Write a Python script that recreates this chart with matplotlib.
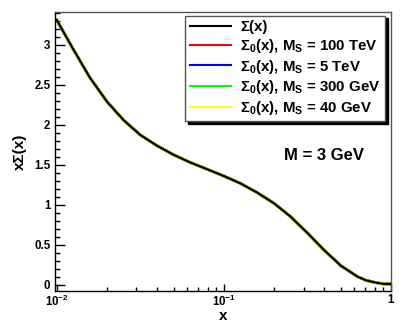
import numpy as np
import matplotlib
matplotlib.use("Agg")
import matplotlib.pyplot as plt
from matplotlib.ticker import FixedLocator, FixedFormatter, MultipleLocator, NullFormatter

# ==========================================
# 字体设置（ROOT风格：Helvetica粗体 -> Liberation Sans Bold）
# ==========================================
plt.rcParams['font.family'] = ['Liberation Sans', 'DejaVu Sans']
plt.rcParams['font.weight'] = 'bold'
plt.rcParams['mathtext.fontset'] = 'custom'
plt.rcParams['mathtext.rm'] = 'Liberation Sans:bold'
plt.rcParams['mathtext.bf'] = 'Liberation Sans:bold'
plt.rcParams['mathtext.it'] = 'Liberation Sans:bold:italic'
plt.rcParams['mathtext.default'] = 'rm'

# ==========================================
# 数据
# ==========================================
x_vals = [0.0100, 0.0126, 0.0158, 0.0200, 0.0251, 0.0316, 0.0398, 0.0501,
          0.0631, 0.0794, 0.100, 0.126, 0.158, 0.200, 0.251, 0.316,
          0.398, 0.501, 0.631, 0.708, 0.794, 0.891, 1.000]
sigma = [3.31, 2.94, 2.59, 2.29, 2.06, 1.875, 1.74, 1.626,
         1.53, 1.446, 1.361, 1.268, 1.155, 1.019, 0.853, 0.651,
         0.436, 0.241, 0.104, 0.059, 0.034, 0.015, 0.0125]
# Σ0 曲线与 Σ 在图中完全重合
sigma0_100tev = list(sigma)
sigma0_5tev = list(sigma)
sigma0_300gev = list(sigma)
sigma0_40gev = list(sigma)

series_labels = [r"Σ(x)",
                 r"Σ$_0$(x), M$_\mathrm{S}$ = 100 TeV",
                 r"Σ$_0$(x), M$_\mathrm{S}$ = 5 TeV",
                 r"Σ$_0$(x), M$_\mathrm{S}$ = 300 GeV",
                 r"Σ$_0$(x), M$_\mathrm{S}$ = 40 GeV"]
series_colors = ['black', 'red', 'blue', '#00ff00', 'yellow']

x_tick_vals = [0.01, 0.1, 1.0]
x_tick_labels = [r"$10^{-2}$", r"$10^{-1}$", "1"]
x_minor_vals = [k * 10.0**e for e in (-2, -1) for k in range(2, 10)]

# ==========================================
# 绘图
# ==========================================
fig = plt.figure(figsize=(4.03, 3.32), dpi=100)
ax = fig.add_axes([54.5 / 403, 1 - 291 / 332, (391 - 54.5) / 403, (291 - 12) / 332])

ax.plot(x_vals, sigma0_100tev, color=series_colors[1], lw=2.0, label=series_labels[1], zorder=2)
ax.plot(x_vals, sigma0_5tev, color=series_colors[2], lw=2.0, label=series_labels[2], zorder=2)
ax.plot(x_vals, sigma0_300gev, color=series_colors[3], lw=2.0, label=series_labels[3], zorder=2)
ax.plot(x_vals, sigma0_40gev, color=series_colors[4], lw=2.0, label=series_labels[4], zorder=2)
ax.plot(x_vals, sigma, color=series_colors[0], lw=1.6, label=series_labels[0], zorder=3)

ax.set_xscale('log')
ax.set_xlim(0.0097, 1.0)
ax.set_ylim(-0.075, 3.41)

ax.xaxis.set_major_locator(FixedLocator(x_tick_vals))
ax.xaxis.set_major_formatter(FixedFormatter(x_tick_labels))
ax.xaxis.set_minor_locator(FixedLocator(x_minor_vals))
ax.xaxis.set_minor_formatter(NullFormatter())
ax.yaxis.set_major_locator(MultipleLocator(0.5))
ax.yaxis.set_minor_locator(MultipleLocator(0.1))
ax.yaxis.set_major_formatter(plt.FuncFormatter(lambda v, p: f"{v:g}"))

ax.tick_params(axis='both', which='both', direction='in', width=1.0, labelsize=8.3)
ax.tick_params(axis='y', which='major', length=7.2, pad=3)
ax.tick_params(axis='y', which='minor', length=3.6)
ax.tick_params(axis='x', which='major', length=5.0, pad=2)
ax.tick_params(axis='x', which='minor', length=3.0)
for lab in ax.get_xticklabels() + ax.get_yticklabels():
    lab.set_fontweight('bold')

for s in ['left', 'bottom']:
    ax.spines[s].set_linewidth(1.0)
for s in ['top', 'right']:
    ax.spines[s].set_color('#555555')
    ax.spines[s].set_linewidth(1.0)

ax.set_xlabel('x', fontsize=11, fontweight='bold', labelpad=0)
ax.set_ylabel('xΣ(x)', fontsize=11, fontweight='bold', labelpad=5)

ax.text(0.682, 0.487, 'M = 3 GeV', transform=ax.transAxes, fontsize=12,
        fontweight='bold', ha='left', va='center')

handles, labels = ax.get_legend_handles_labels()
order = [4, 0, 1, 2, 3]
leg = ax.legend([handles[i] for i in order], [labels[i] for i in order],
                loc='upper right', bbox_to_anchor=(0.982, 0.987),
                fontsize=10.8, frameon=True, fancybox=False,
                shadow={'color': 'black', 'alpha': 1.0, 'ox': 2, 'oy': -2},
                handlelength=2.75, handletextpad=0.6, borderpad=0.3,
                labelspacing=0.18, borderaxespad=0)
leg.get_frame().set_edgecolor('#555555')
leg.get_frame().set_linewidth(1.0)
for ln in leg.get_lines():
    ln.set_linewidth(1.5)

fig.savefig('out.png', dpi=100)
